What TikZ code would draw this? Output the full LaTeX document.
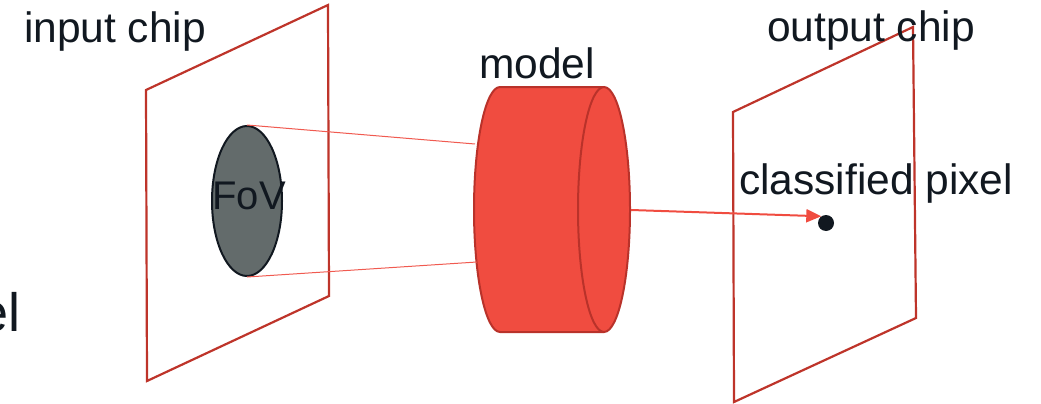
\documentclass[tikz,border=0pt]{standalone}
\usepackage{fontspec}
\setmainfont{Liberation Sans}
\usetikzlibrary{arrows.meta,shapes.geometric}
\definecolor{chipred}{RGB}{190,52,42}
\definecolor{modelred}{RGB}{240,76,64}
\definecolor{modeledge}{RGB}{185,50,42}
\definecolor{fovgray}{RGB}{99,107,107}
\definecolor{ink}{RGB}{17,24,32}
\definecolor{raylight}{RGB}{240,90,80}

\begin{document}
\begin{tikzpicture}[x=1pt,y=-1pt,
    chip/.style={draw=chipred,line width=2.2pt,line join=miter},
    caption/.style={font=\fontsize{42.5}{50}\selectfont,text=ink,inner sep=0pt,anchor=base},
    ray/.style={draw=raylight,line width=1pt},
    modelpart/.style={draw=modeledge,fill=modelred,line width=2pt}]
  \useasboundingbox (0,0) rectangle (1041,404);
  \clip (0,0) rectangle (1041,404);
  % the two chips, drawn as slanted planes
  \foreach \p/\q/\r/\s in {{(146,90)}/{(328,5)}/{(329,296)}/{(147,381)},
                           {(733,112)}/{(913,27)}/{(916,318)}/{(734,402)}}{
    \draw[chip] \p -- \q -- \r -- \s -- cycle;
  }
  % field of view on the input chip
  \node[ellipse,draw=ink,fill=fovgray,line width=2pt,inner sep=0pt,
        minimum width=70pt,minimum height=150pt] (fov) at (247,201) {};
  \node[caption,font=\fontsize{40}{48}\selectfont] (fovtext) at (249,209) {FoV};
  % the model cylinder, lying on its side
  \draw[modelpart] (604,87) -- (500,87)
    arc[start angle=270,end angle=90,x radius=26,y radius=122.5] -- (604,332);
  \draw[modelpart] (604,209.5) ellipse[x radius=26,y radius=122.5];
  \coordinate (modelin1) at (475,144);
  \coordinate (modelin2) at (477,262);
  \coordinate (modelout) at (631,210);
  \draw[ray] (fov.north) -- (modelin1);
  \draw[ray] (fov.south) -- (modelin2);
  % the classified pixel on the output chip
  \node[circle,fill=ink,inner sep=0pt,minimum size=16pt] (pixel) at (826,223) {};
  \draw[draw=modelred,line width=2pt,-{Triangle[length=15pt,width=13pt]}]
    (modelout) -- (pixel.125);
  % labels
  \node[caption] (inlabel) at (115,43) {input chip};
  \node[caption] (modellabel) at (537,78) {model};
  \node[caption] (outlabel) at (871,42) {output chip};
  \node[caption] (pixellabel) at (876,194) {classified pixel};
  \node[caption,anchor=base east,font=\fontsize{54}{60}\selectfont] (cutlabel) at (21,331) {el};
\end{tikzpicture}
\end{document}
